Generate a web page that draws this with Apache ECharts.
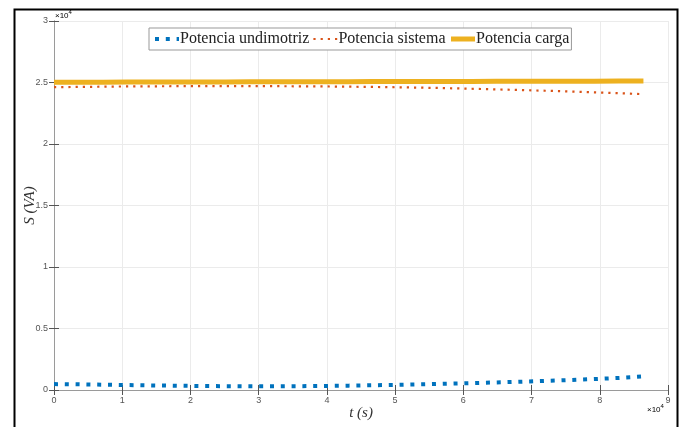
<!DOCTYPE html>
<html>
<head>
<meta charset="utf-8">
<script src="https://cdn.jsdelivr.net/npm/echarts@6/dist/echarts.min.js"></script>
<style>
  html, body { margin: 0; padding: 0; background: #fff; }
  #chart { width: 680px; height: 427px; }
</style>
</head>
<body>
<div id="chart"></div>
<script>
// Time samples over one day (s), hourly
const tiempo = [0, 3600, 7200, 10800, 14400, 18000, 21600, 25200, 28800, 32400, 36000, 39600,
  43200, 46800, 50400, 54000, 57600, 61200, 64800, 68400, 72000, 75600, 79200, 82800, 86400];

// Apparent power (VA)
const potUndimotriz = [480, 460, 430, 400, 370, 345, 325, 310, 300, 300, 310, 330,
  355, 385, 420, 460, 510, 560, 615, 670, 740, 810, 890, 980, 1100];
const potSistema = [24620, 24640, 24660, 24680, 24690, 24700, 24710, 24710, 24710, 24700, 24690, 24680,
  24660, 24640, 24610, 24580, 24540, 24490, 24440, 24390, 24330, 24270, 24200, 24130, 24050];
const potCarga = [25020, 25025, 25030, 25034, 25038, 25042, 25046, 25050, 25054, 25058, 25062, 25066,
  25070, 25074, 25078, 25082, 25086, 25090, 25094, 25098, 25102, 25106, 25110, 25115, 25120];

const nombres = ['Potencia undimotriz', 'Potencia sistema', 'Potencia carga'];

// Tick labels (scaled by 10^4)
const xTickLabels = ['0', '1', '2', '3', '4', '5', '6', '7', '8', '9'];
const yTickLabels = ['0', '0.5', '1', '1.5', '2', '2.5', '3'];

const pares = (vals) => tiempo.map((t, i) => [t, vals[i]]);

const tickFont = { fontFamily: 'Liberation Sans', fontSize: 9, color: '#555' };
const boxColor = '#9a9a9a';
// ticks drawn towards the plot interior
const tickIn = { show: true, inside: false, length: -5, lineStyle: { color: '#555' } };

const estilos = [
  { color: '#0072BD', width: 4, type: [4, 6.8], cap: 'butt' },
  { color: '#D95319', width: 2.2, type: [2.2, 5], cap: 'butt' },
  { color: '#EDB120', width: 5, type: 'solid' }
];

const chart = echarts.init(document.getElementById('chart'), null, { renderer: 'canvas' });

chart.setOption({
  animation: false,
  backgroundColor: '#fff',
  grid: { left: 54, right: 12, top: 21, bottom: 37 },
  legend: {
    left: 149, top: 28,
    data: nombres.map((n, i) => ({ name: n, lineStyle: estilos[i] })),
    backgroundColor: '#fff',
    borderColor: '#999', borderWidth: 1, borderRadius: 0,
    padding: [3, 2, 3, 4],
    itemWidth: 24, itemHeight: 10, itemGap: 3,
    itemStyle: { opacity: 0 },
    textStyle: { fontFamily: 'Liberation Serif', fontSize: 16, color: '#222', padding: [0, 0, 0, -4] }
  },
  xAxis: [{
    type: 'value', min: 0, max: 90000, interval: 10000,
    name: 't (s)', nameLocation: 'middle', nameGap: 16, nameMoveOverlap: false,
    nameTextStyle: { fontFamily: 'Liberation Serif', fontStyle: 'italic', fontSize: 15, color: '#333' },
    axisLine: { show: true, lineStyle: { color: boxColor, width: 1 } },
    axisTick: tickIn,
    axisLabel: Object.assign({ margin: 6, formatter: (v) => xTickLabels[Math.round(v / 10000)] }, tickFont),
    splitLine: { show: true, lineStyle: { color: '#ebebeb', width: 1 } }
  }, {
    type: 'value', min: 0, max: 90000, interval: 10000, position: 'top',
    axisLine: { show: true, lineStyle: { color: boxColor, width: 1 } },
    axisTick: tickIn,
    axisLabel: { show: false }, splitLine: { show: false }
  }],
  yAxis: [{
    type: 'value', min: 0, max: 30000, interval: 5000,
    name: 'S (VA)', nameLocation: 'middle', nameGap: 16, nameRotate: 90, nameMoveOverlap: false,
    nameTextStyle: { fontFamily: 'Liberation Serif', fontStyle: 'italic', fontSize: 15, color: '#333' },
    axisLine: { show: true, lineStyle: { color: boxColor, width: 1 } },
    axisTick: tickIn,
    axisLabel: Object.assign({ margin: 6, formatter: (v) => yTickLabels[Math.round(v / 5000)] }, tickFont),
    splitLine: { show: true, lineStyle: { color: '#ebebeb', width: 1 } }
  }, {
    type: 'value', min: 0, max: 30000, interval: 5000, position: 'right',
    axisLine: { show: true, lineStyle: { color: boxColor, width: 1 } },
    axisTick: tickIn,
    axisLabel: { show: false }, splitLine: { show: false }
  }],
  series: [{
    name: nombres[0], type: 'line', showSymbol: false, symbol: 'none',
    data: pares(potUndimotriz),
    color: estilos[0].color,
    lineStyle: estilos[0],
    z: 3
  }, {
    name: nombres[1], type: 'line', showSymbol: false, symbol: 'none',
    data: pares(potSistema),
    color: estilos[1].color,
    lineStyle: estilos[1],
    z: 4
  }, {
    name: nombres[2], type: 'line', showSymbol: false, symbol: 'none',
    data: pares(potCarga),
    color: estilos[2].color,
    lineStyle: estilos[2],
    z: 2
  }],
  graphic: [{
    type: 'rect', left: 12, top: 7, z: 100, silent: true,
    shape: { width: 663, height: 440 },
    style: { fill: null, stroke: '#000', lineWidth: 2 }
  }, {
    type: 'text', left: 55, top: 9, z: 100,
    style: {
      text: '{a|×10}{b|4}',
      rich: {
        a: { fontFamily: 'Liberation Sans', fontSize: 8, color: '#555', verticalAlign: 'bottom' },
        b: { fontFamily: 'Liberation Sans', fontSize: 6, color: '#555', verticalAlign: 'top', padding: [0, 0, 5, 0] }
      }
    }
  }, {
    type: 'text', left: 647, top: 403, z: 100,
    style: {
      text: '{a|×10}{b|4}',
      rich: {
        a: { fontFamily: 'Liberation Sans', fontSize: 8, color: '#555', verticalAlign: 'bottom' },
        b: { fontFamily: 'Liberation Sans', fontSize: 6, color: '#555', verticalAlign: 'top', padding: [0, 0, 5, 0] }
      }
    }
  }]
});
</script>
</body>
</html>
